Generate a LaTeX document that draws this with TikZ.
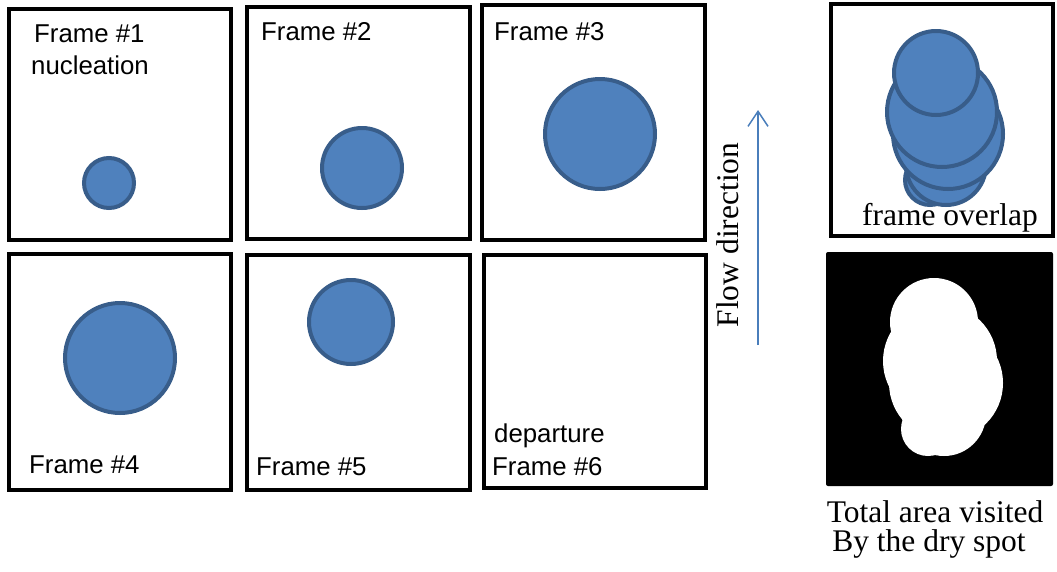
\documentclass[tikz,border=0pt]{standalone}
\usepackage{fontspec}
\setmainfont{Liberation Serif}
\newfontfamily\arialfont{Liberation Sans}
\usetikzlibrary{arrows.meta}
\definecolor{bubfill}{HTML}{4F81BD}
\definecolor{bubline}{HTML}{385D8A}
\definecolor{flowcol}{HTML}{4A7EBB}
\tikzset{
  framebox/.style={draw=black, line width=4.5pt, inner sep=0pt, fill=white},
  bubble/.style={circle, draw=bubline, fill=bubfill, line width=4pt, inner sep=0pt},
  drybub/.style={circle, fill=white, inner sep=0pt},
  lab/.style={font=\arialfont\fontsize{25.8}{30}\selectfont, anchor=base west, inner sep=0pt},
  serlab/.style={font=\fontsize{31.5}{36}\selectfont, inner sep=0pt},
}
\begin{document}
\begin{tikzpicture}[x=1pt,y=-1pt]
\useasboundingbox (0,0) rectangle (1057,571);
% frames
\node[framebox, minimum width=222pt, minimum height=231pt] (f1) at (120,124.5) {};
\node[framebox, minimum width=223pt, minimum height=232pt] (f2) at (358.5,123) {};
\node[framebox, minimum width=223pt, minimum height=235pt] (f3) at (593.5,122.5) {};
\node[framebox, minimum width=222pt, minimum height=236pt] (f4) at (120,372) {};
\node[framebox, minimum width=223pt, minimum height=235pt] (f5) at (358.5,372.5) {};
\node[framebox, minimum width=222pt, minimum height=233pt] (f6) at (595,371.5) {};
\node[framebox, minimum width=222pt, minimum height=232pt] (fo) at (942,120) {};
\node[fill=black, rounded corners=2pt, inner sep=0pt, minimum width=227pt, minimum height=234pt] (fb) at (939.5,369) {};
% bubbles in frames
\node[bubble, minimum size=50pt] (b1) at (109,183) {};
\node[bubble, minimum size=80pt] (b2) at (362,168) {};
\node[bubble, minimum size=110pt] (b3) at (600,134) {};
\node[bubble, minimum size=110pt] (b4) at (120,358) {};
\node[bubble, minimum size=84pt] (b5) at (351,322) {};
% overlap
\node[bubble, minimum size=50pt] (o1) at (930,180) {};
\node[bubble, minimum size=80pt] (o2) at (946,165) {};
\node[bubble, minimum size=110pt] (o3) at (948,134) {};
\node[bubble, minimum size=110pt] (o4) at (942,112) {};
\node[bubble, minimum size=84pt] (o5) at (936,73) {};
% dry spot silhouette
\node[drybub, minimum size=54pt] (d1) at (928,429) {};
\node[drybub, minimum size=84pt] (d2) at (944,414) {};
\node[drybub, minimum size=114pt] (d3) at (946,383) {};
\node[drybub, minimum size=114pt] (d4) at (940,361) {};
\node[drybub, minimum size=88pt] (d5) at (934,322) {};
% labels
\node[lab] (t1) at (34,42) {Frame \#1};
\node[lab] (t1b) at (31,74) {nucleation};
\node[lab] (t2) at (261,40) {Frame \#2};
\node[lab] (t3) at (494,40) {Frame \#3};
\node[lab] (t4) at (29,473) {Frame \#4};
\node[lab] (t5) at (256,475) {Frame \#5};
\node[lab] (t6a) at (494,442) {departure};
\node[lab] (t6) at (492,475) {Frame \#6};
\node[serlab, anchor=base] (tov) at (950,225) {frame overlap};
\node[serlab, anchor=base] (tta) at (935,522) {Total area visited};
\node[serlab, anchor=base] (ttb) at (929,551) {By the dry spot};
% flow
\node[serlab, rotate=90] (tflow) at (728,235) {Flow direction};
\coordinate (fa) at (758,345);
\coordinate (fz) at (758,110);
\draw[flowcol, line width=1.5pt, -{Straight Barb[length=15pt,width=20pt]}] (fa) -- (fz);
\end{tikzpicture}
\end{document}
